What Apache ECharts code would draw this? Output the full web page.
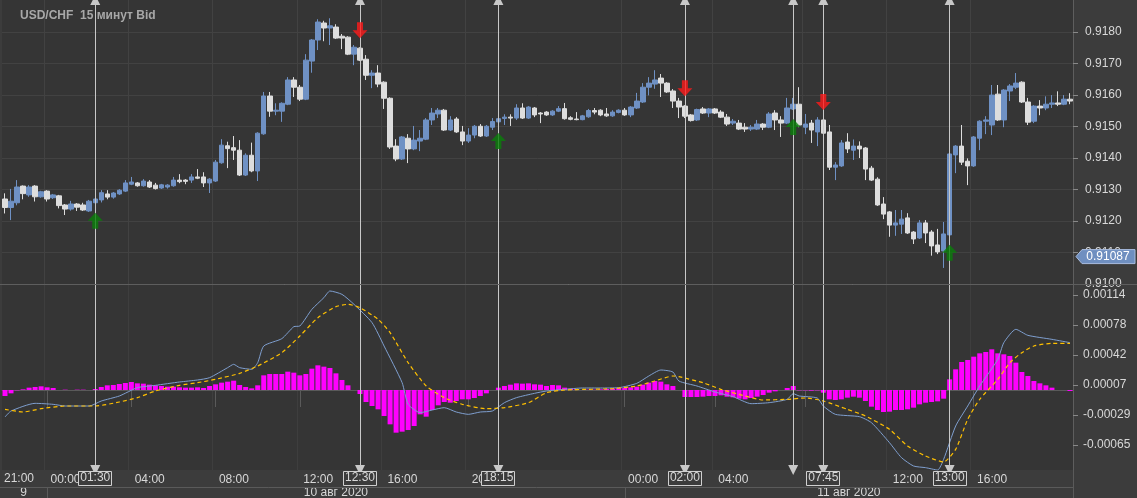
<!DOCTYPE html>
<html><head><meta charset="utf-8">
<script src="https://cdn.jsdelivr.net/npm/echarts@6/dist/echarts.min.js"></script>
<style>html,body{margin:0;padding:0;background:#3c3c3c;}#c{width:1137px;height:498px;}</style>
</head><body><div id="c"></div>
<script>
// Prices in pips above 0.9100 (15-min bars starting 9 Aug 21:45)
const openPips=[27.0,24.3,25.8,31.1,28.3,31.1,27.7,29.5,27.4,28.0,25.1,23.8,25.4,25.1,23.2,25.8,26.7,28.6,27.6,28.6,29.5,31.7,32.1,31.2,32.4,31.4,30.5,30.8,31.2,33.0,33.0,33.0,34.0,34.0,32.1,32.7,38.5,43.9,43.3,42.5,34.6,40.9,35.9,47.7,59.7,54.9,54.9,57.1,64.8,62.5,58.7,70.8,77.5,82.9,81.3,81.6,78.7,78.4,73.0,74.9,71.4,66.3,67.0,64.1,59.0,43.8,39.7,46.3,42.9,45.4,46.0,52.1,54.0,55.2,48.9,52.4,48.3,45.4,47.3,50.1,47.0,49.8,51.5,52.6,53.0,52.7,55.9,52.7,55.9,54.3,54.6,53.7,54.9,55.7,52.8,52.4,52.2,53.1,55.1,55.2,54.0,53.4,54.5,55.2,53.7,55.9,57.8,62.5,63.5,65.4,63.8,61.3,58.1,56.5,53.7,52.1,55.6,54.3,55.6,54.6,53.0,51.1,51.1,49.8,49.2,49.2,50.8,49.8,54.3,52.1,51.1,55.6,57.1,49.8,51.1,48.3,52.1,48.3,37.1,37.5,45.1,42.5,43.8,43.2,36.8,33.3,25.4,22.9,18.7,19.0,21.0,16.5,14.6,19.4,16.5,12.4,10.5,15.6,41.0,43.8,39.0,37.5,46.3,51.7,50.5,60.3,52.1,61.3,62.5,64.1,57.8,51.7,56.5,55.9,57.1,57.5,57.1,58.7];
const closePips=[24.3,26.3,30.8,28.7,30.8,27.7,29.3,27.0,28.3,24.9,23.8,25.4,24.4,23.5,26.3,27.0,29.0,27.6,28.9,29.8,32.1,32.4,31.2,32.7,30.8,30.3,31.5,31.4,33.0,32.5,32.6,34.0,33.6,32.1,33.3,38.7,44.1,43.0,42.5,34.6,40.9,35.9,47.9,59.7,54.9,55.2,57.4,64.8,62.5,58.7,71.1,77.5,83.2,81.3,82.0,78.1,78.1,73.0,75.2,71.1,66.3,67.0,63.5,59.0,43.5,39.7,46.7,42.9,45.7,46.3,52.1,54.3,55.2,48.9,52.1,48.3,45.4,47.3,50.1,47.0,50.1,51.6,52.5,53.0,52.7,55.9,52.7,56.2,53.7,54.0,53.7,54.9,55.7,52.5,52.3,52.2,53.4,55.1,54.6,53.7,53.4,54.6,55.2,53.7,56.2,58.1,62.5,63.8,64.8,63.8,61.0,58.1,56.2,53.3,51.9,55.4,54.3,55.6,54.3,53.0,50.8,51.7,49.2,49.2,49.8,50.8,49.8,54.0,52.1,51.1,55.9,57.1,50.5,50.8,48.9,52.1,47.9,37.1,37.8,44.8,42.9,43.8,42.9,36.5,33.0,25.1,22.2,18.7,19.4,20.6,16.2,14.3,19.4,16.2,12.1,10.2,15.9,41.3,43.8,38.7,37.5,46.7,51.7,52.1,60.0,52.1,61.6,62.9,63.8,57.8,51.4,56.5,55.9,57.1,57.5,57.1,58.7,58.1];
const highPips=[28.8,30.2,33.0,31.3,31.4,31.4,29.6,29.8,28.6,28.3,25.4,26.4,25.7,25.8,26.7,27.4,29.8,29.8,29.2,30.1,33.0,34.0,32.4,33.3,33.0,32.1,31.8,31.7,34.0,34.9,33.3,34.9,36.5,35.5,33.6,39.4,46.0,45.2,47.0,45.7,41.5,44.9,48.2,61.0,61.0,57.4,57.7,65.7,65.7,63.2,73.0,77.8,84.1,83.6,84.4,82.5,79.4,78.7,75.9,75.2,72.7,67.9,69.5,64.4,59.3,46.0,47.0,47.6,50.2,48.9,52.7,55.9,55.9,55.6,53.3,53.0,50.2,49.5,50.5,50.8,50.5,52.7,53.0,53.9,53.9,57.1,57.4,56.5,56.2,54.6,54.9,55.2,56.5,57.5,53.3,54.6,53.7,55.6,55.9,55.5,55.9,55.2,55.5,55.9,56.5,60.7,63.8,65.7,67.9,66.7,64.1,61.9,59.1,56.8,54.0,55.7,56.2,55.9,55.9,55.2,54.0,52.4,52.1,51.1,50.5,52.1,51.1,54.6,55.2,53.3,59.1,59.1,62.5,54.0,52.1,53.0,52.4,50.5,38.7,45.7,47.9,45.9,45.3,43.5,37.5,33.9,27.6,23.2,23.5,23.5,22.5,16.8,20.3,20.3,17.1,17.5,19.7,41.6,44.1,50.5,39.9,47.0,52.0,53.3,63.2,63.2,61.9,63.5,67.0,64.4,59.1,56.8,58.4,59.6,60.0,61.2,60.0,60.6];
const lowPips=[22.4,20.3,25.0,26.9,27.7,26.2,27.4,26.2,27.0,24.0,21.9,23.3,23.2,23.2,22.9,25.5,25.9,26.9,27.1,28.3,29.2,31.4,30.9,30.9,30.5,30.0,30.2,30.3,30.9,32.0,31.7,32.1,33.3,30.8,28.9,32.4,38.2,36.8,39.4,34.3,34.3,35.5,32.7,47.4,53.1,53.6,51.5,56.8,59.4,58.1,58.4,67.1,74.3,77.1,75.9,77.8,74.6,72.7,69.5,70.8,64.8,62.2,62.5,55.6,42.9,39.0,39.4,38.4,42.5,42.2,45.7,50.5,52.7,48.6,48.6,48.0,44.1,44.8,46.3,46.7,46.7,48.9,50.8,50.5,50.2,52.1,52.4,52.4,53.0,51.1,53.4,53.4,54.6,52.2,52.0,52.0,52.0,52.8,53.9,53.3,53.1,53.1,54.2,53.4,53.0,55.6,57.5,59.9,62.0,59.4,60.7,55.9,52.7,52.7,51.6,51.8,54.0,53.0,54.0,52.7,50.2,50.5,48.9,48.3,48.6,48.9,48.9,49.5,48.9,46.7,50.8,55.3,49.8,47.6,44.8,43.8,47.6,36.2,33.0,37.2,41.6,39.4,40.0,33.0,32.7,24.8,20.6,15.0,15.3,15.9,15.9,12.7,14.3,13.0,9.0,9.5,5.1,15.3,35.2,37.8,31.4,37.2,42.5,47.6,47.3,51.8,49.8,58.1,61.9,57.5,50.5,51.1,53.6,55.2,55.9,56.5,56.8,57.1];
// MACD (units of 1e-5)
const histValues=[-7.2,-4,-0.4,0.8,2.8,3.6,4.4,3.2,2.4,0,0.4,0,0.4,0.4,0,1.2,3.6,5.6,6,7.2,8.4,9.6,8,7.6,6.4,5.6,4.8,4,4,3.2,2.8,2.8,3.2,2.4,4.8,6.8,8.8,10,11.2,6,3.6,2,5.6,17.6,19.2,19.2,19.2,22,20.8,17.6,19.2,25.6,29.6,28,26.4,20,12,5.6,0,-4.8,-14.4,-19.2,-23.2,-31.2,-41.2,-51.2,-50,-48,-43.2,-29.2,-32,-24,-18.4,-14.4,-15.2,-13.2,-11.2,-11.2,-9.6,-7.2,-4,0,2.8,4.8,6.4,8,7.6,8,6.8,6.4,4.8,6,5.6,2.8,1.6,0.8,0,0.4,0.4,0.8,1.2,1.6,2.4,2.8,3.2,4,6.4,8.8,10.8,10,6.8,4.8,0,-8.4,-8.4,-8.4,-8,-7.2,-7.2,-6.4,-8,-8.8,-10.4,-11.2,-9.6,-8,-6,-3.2,-1.6,0,2.4,4.8,-0.4,-0.4,-0.8,-0.4,-3.2,-11.2,-12,-11.2,-9.2,-8,-9.2,-13.2,-20,-24,-26.4,-26,-24,-24,-23.2,-21.2,-17.2,-15.2,-14.4,-13.6,-10.4,12.8,24.8,33.6,36,40,44,45.6,48.8,44,42.8,40.8,32.8,21.6,16.8,10.8,8,5.6,2.8,0,0,-1.2];
const macdPts=[[0,-32.4],[1,-25.2],[5,-16],[8,-17.2],[10,-19.2],[14,-19.2],[16,-13.2],[19,-7.2],[22,2.8],[25,5.6],[29,9.6],[32,12],[34,14.8],[37,26.8],[38,30.8],[39,26.8],[41,24.8],[42,32.8],[43,52.8],[46,61.6],[48,76],[49,76.8],[51,96.8],[53,110.8],[54,118.8],[56,114.8],[58,102.8],[61,80.8],[63,52.8],[66,8.8],[67,-17.2],[69,-27.2],[71,-24],[73,-21.2],[75,-26.4],[77,-29.2],[79,-26.4],[81,-25.2],[83,-15.2],[85,-9.2],[88,-4],[90,-1.2],[93,0.8],[96,2.4],[99,2.4],[102,2.8],[105,8],[107,16.8],[109,24],[111,21.6],[112,10.8],[115,4.8],[118,-2.4],[121,-8],[124,-16.4],[127,-15.2],[130,-11.2],[131,-4.4],[132,-7.2],[135,-9.6],[136,-19.2],[138,-29.2],[142,-32],[144,-39.2],[147,-63.2],[149,-81.2],[151,-91.2],[153,-93.2],[155,-96],[156,-83.2],[158,-43.2],[160,-19.2],[162,4.8],[165,36.8],[166,56.8],[168,72.8],[170,65.6],[174,60.8],[177,56.8]];
const signalPts=[[0,-23.2],[3,-26.4],[6,-22.4],[10,-19.2],[15,-19.2],[19,-14.4],[22,-9.2],[25,-1.2],[29,5.6],[32,8.8],[35,12.8],[39,20],[42,28.8],[46,44.8],[49,64.8],[52,86.8],[55,100],[57,102.8],[59,98.8],[62,84.8],[64,68.8],[67,32.8],[70,4.8],[73,-9.2],[76,-17.2],[80,-22.4],[83,-21.2],[87,-15.2],[90,-3.2],[93,0],[97,0.8],[101,1.6],[105,4.8],[108,10.8],[111,16.8],[112,16],[116,8.8],[119,0.8],[123,-7.2],[126,-12],[130,-11.2],[133,-9.6],[136,-13.2],[140,-23.2],[143,-31.2],[147,-47.2],[150,-67.2],[153,-79.2],[156,-86.4],[158,-71.2],[160,-35.2],[162,-11.2],[165,12.8],[167,32.8],[169,44.8],[171,52.8],[174,56],[177,56]];
// markers
const markIdx=[15,59,82,113,131,136,157];
const markLabelIdx=[15,59,82,113,136,157];
const markLabelText=['01:30','12:30','18:15','02:00','07:45','13:00'];
const upIdx=[15,82,131,157];
const downIdx=[59,113,136];
// time axis ticks
const tickIdx=[7,21,35,49,63,77,103,118,133,147,161];
const tickText=['00:00','04:00','08:00','12:00','16:00','20:00','00:00','04:00','08:00','12:00','16:00'];
const priceTickVals=[0.910,0.911,0.912,0.913,0.914,0.915,0.916,0.917,0.918];
const macdTickVals=[114,78,42,6,-30,-66];
const macdTickText=['0.00114','0.00078','0.00042','0.00007','-0.00029','-0.00065'];
const bidPrice=0.91087;
const dateText=['9','10 авг 2020','11 авг 2020'];

const P=p=>+(0.91+p/10000).toFixed(5);
const cats=openPips.map((_,i)=>String(i));
const candles=openPips.map((o,i)=>[P(o),P(closePips[i]),P(lowPips[i]),P(highPips[i])]);
const FONT='Liberation Sans';
const tickSet=new Set(tickIdx);
const chart=echarts.init(document.getElementById('c'));
const upPath='path://M5,0 L10,5 L7,5 L7,10 L3,10 L3,5 L0,5 Z';
const downPath='path://M3,0 L7,0 L7,5 L10,5 L5,10 L0,5 L3,5 Z';
chart.setOption({
  animation:false, backgroundColor:'#3c3c3c',
  textStyle:{fontFamily:FONT},
  grid:[{left:2,right:64,top:0,height:284,show:true,backgroundColor:'#353535',borderWidth:0},
        {left:2,right:64,top:285,height:185,show:true,backgroundColor:'#353535',borderWidth:0}],
  xAxis:[
    {type:'category',data:cats,gridIndex:0,axisLine:{show:false},axisTick:{show:false},axisLabel:{show:false},
     splitLine:{show:true,interval:(i)=>tickSet.has(i),lineStyle:{color:'#424242'}}},
    {type:'category',data:cats,gridIndex:1,axisLine:{show:true,lineStyle:{color:'#5a5a5a'}},
     axisTick:{show:true,alignWithLabel:true,length:17,interval:(i)=>tickSet.has(i),lineStyle:{color:'#5a5a5a'}},
     axisLabel:{show:true,interval:(i)=>tickSet.has(i),align:'left',margin:4,color:'#d8d8d8',fontSize:12,fontFamily:FONT,
       formatter:(v,i)=>{const k=tickIdx.indexOf(i);return k>=0?' '+tickText[k]:'';}},
     splitLine:{show:true,interval:(i)=>tickSet.has(i),lineStyle:{color:'#3e3e3e'}}}
  ],
  yAxis:[
    {type:'value',gridIndex:0,position:'right',min:0.9100,max:0.91902,
     axisLine:{show:true,lineStyle:{color:'#5e5e5e'}},
     axisTick:{show:true,length:5,customValues:priceTickVals,lineStyle:{color:'#888'}},
     axisLabel:{color:'#d8d8d8',fontSize:12,margin:12,customValues:priceTickVals,formatter:v=>v.toFixed(4)},
     splitLine:{show:true,customValues:priceTickVals,lineStyle:{color:'#424242'}}},
    {type:'value',gridIndex:1,position:'right',min:-96,max:126,
     axisLine:{show:true,lineStyle:{color:'#5e5e5e'}},
     axisTick:{show:true,length:5,customValues:macdTickVals,lineStyle:{color:'#888'}},
     axisLabel:{color:'#d8d8d8',fontSize:12,margin:10,customValues:macdTickVals,
       formatter:v=>{const k=macdTickVals.indexOf(Math.round(v));return k>=0?macdTickText[k]:'';}},
     splitLine:{show:false}}
  ],
  series:[
    {type:'candlestick',xAxisIndex:0,yAxisIndex:0,data:candles,barWidth:5,
     itemStyle:{color:'#6f91c4',color0:'#dddddd',borderColor:'#6f91c4',borderColor0:'#dddddd',borderWidth:1},
     markLine:{silent:true,animation:false,symbol:['none','triangle'],symbolSize:[10,10],label:{show:false},
       lineStyle:{color:'#c8c8c8',type:'solid',width:1},
       data:markIdx.map(i=>({xAxis:i}))}},
    {type:'line',xAxisIndex:0,yAxisIndex:0,data:[],
     markLine:{silent:true,animation:false,symbol:['none','none'],label:{show:false},
       lineStyle:{color:'#8a8a8a',type:'dotted',width:1},data:[{yAxis:bidPrice}]}},
    {type:'scatter',xAxisIndex:0,yAxisIndex:0,symbol:upPath,symbolSize:[15,16],symbolOffset:[0,17],z:5,
     itemStyle:{color:'#0a7f0a'},data:upIdx.map(i=>[i,P(lowPips[i])])},
    {type:'scatter',xAxisIndex:0,yAxisIndex:0,symbol:downPath,symbolSize:[15,16],symbolOffset:[0,-17],z:5,
     itemStyle:{color:'#ff1a1a'},data:downIdx.map(i=>[i,P(highPips[i])])},
    {type:'bar',xAxisIndex:1,yAxisIndex:1,data:histValues,barWidth:5,itemStyle:{color:'#ff00ff'},
     markLine:{silent:true,animation:false,symbol:['triangle','none'],symbolSize:[10,10],label:{show:false},
       lineStyle:{color:'#c8c8c8',type:'solid',width:1},data:markIdx.map(i=>({xAxis:i}))}},
    {type:'line',xAxisIndex:1,yAxisIndex:1,data:macdPts,showSymbol:false,smooth:0.2,lineStyle:{color:'#7f9fcf',width:1},z:4},
    {type:'line',xAxisIndex:1,yAxisIndex:1,data:signalPts,showSymbol:false,smooth:0.2,lineStyle:{color:'#ffc000',width:1.2,type:[4,3]},z:4}
  ]
});
const px=i=>chart.convertToPixel({xAxisIndex:0},i);
const g=[];
g.push({type:'text',left:20,top:10,style:{text:'USD/CHF  15 минут Bid',fill:'#a8a8a8',font:'bold 12px '+FONT}});
g.push({type:'line',shape:{x1:0,y1:284.5,x2:1137,y2:284.5},style:{stroke:'#5e5e5e',lineWidth:1},z:10});
g.push({type:'line',shape:{x1:0,y1:487.5,x2:1073,y2:487.5},style:{stroke:'#5a5a5a',lineWidth:1},z:10});
g.push({type:'line',shape:{x1:1073.5,y1:470,x2:1073.5,y2:498},style:{stroke:'#5a5a5a',lineWidth:1},z:10});
g.push({type:'text',x:4,y:473,style:{text:'21:00',fill:'#d8d8d8',font:'12px '+FONT}});
const d0=px(tickIdx[0]),d1=px(tickIdx[6]);
[[0,d0],[d0,d1],[d1,1073]].forEach((s,k)=>{
  g.push({type:'text',x:(s[0]+s[1])/2,y:487,style:{text:dateText[k],fill:'#d8d8d8',font:'12px '+FONT,textAlign:'center'}});
});
[d0,d1].forEach(x=>g.push({type:'line',shape:{x1:Math.round(x)+0.5,y1:487,x2:Math.round(x)+0.5,y2:498},style:{stroke:'#5a5a5a'},z:10}));
markLabelIdx.forEach((i,k)=>{
  const x=px(i);
  g.push({type:'rect',shape:{x:Math.round(x)-16.5,y:471.5,width:33,height:14},style:{fill:'#3c3c3c',stroke:'#d0d0d0',lineWidth:1},z:20});
  g.push({type:'text',x:x,y:472,style:{text:markLabelText[k],fill:'#d8d8d8',font:'12px '+FONT,textAlign:'center'},z:21});
});
const by=chart.convertToPixel({yAxisIndex:0},bidPrice);
g.push({type:'polygon',shape:{points:[[1076,by],[1082,by-7],[1135,by-7],[1135,by+7],[1082,by+7]]},style:{fill:'#6f8fc0',stroke:'#a9bde0'},z:20});
g.push({type:'text',x:1108,y:by-6,style:{text:bidPrice.toFixed(5),fill:'#ffffff',font:'12px '+FONT,textAlign:'center'},z:21});
chart.setOption({graphic:g});
</script></body></html>
